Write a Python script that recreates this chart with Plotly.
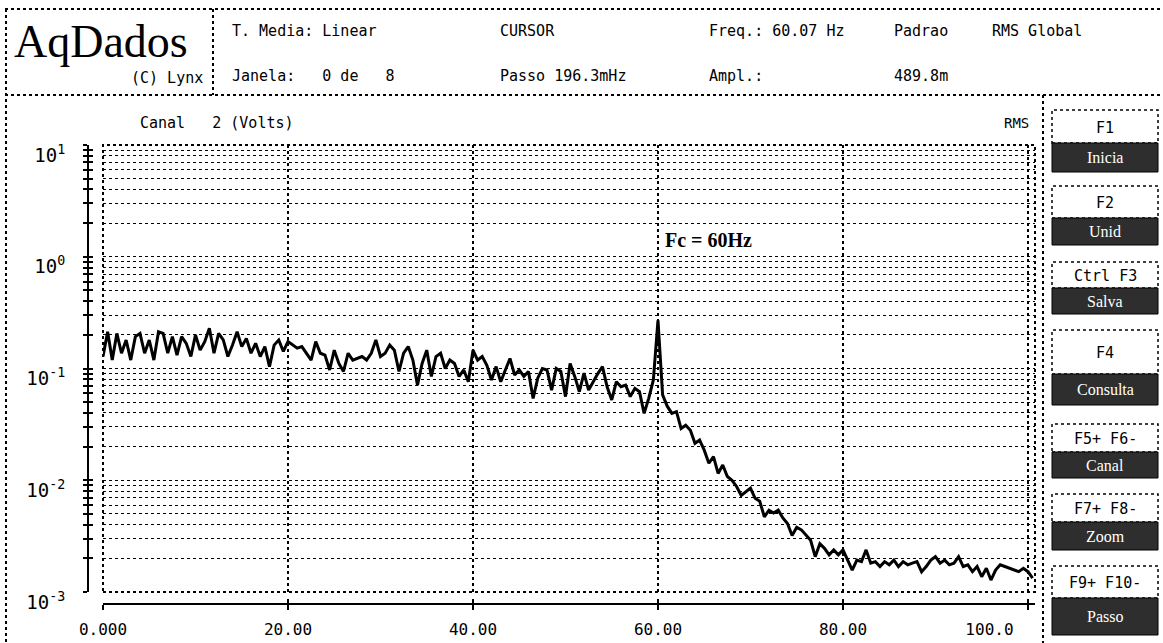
import plotly.graph_objects as go

# Spectrum of channel 2 (RMS volts), one value every 0.5 Hz from 0 to 100.5 Hz
freq_step_hz = 0.5
amp_0_27 = [0.128, 0.213, 0.119, 0.206, 0.137, 0.180, 0.119, 0.193, 0.206, 0.137,
            0.180, 0.119, 0.213, 0.206, 0.137, 0.193, 0.132, 0.193, 0.168, 0.128,
            0.200, 0.146, 0.174, 0.229, 0.137, 0.206, 0.180, 0.128, 0.162, 0.213,
            0.157, 0.186, 0.137, 0.168, 0.128, 0.157, 0.104, 0.162, 0.180, 0.142,
            0.174, 0.162, 0.152, 0.157, 0.137, 0.119, 0.174, 0.137, 0.132, 0.097,
            0.146, 0.111, 0.094, 0.137, 0.119]
amp_27_52 = [0.123, 0.128, 0.119, 0.137, 0.180, 0.128, 0.137, 0.162, 0.146, 0.094,
             0.137, 0.157, 0.119, 0.071, 0.111, 0.146, 0.085, 0.128, 0.137, 0.100,
             0.119, 0.111, 0.085, 0.097, 0.076, 0.146, 0.119, 0.128, 0.107, 0.079,
             0.104, 0.076, 0.097, 0.123, 0.0875, 0.097, 0.085, 0.094, 0.054, 0.082,
             0.100, 0.097, 0.064, 0.100, 0.094, 0.056, 0.111, 0.085, 0.062, 0.091]
amp_52_76 = [0.0642, 0.0762, 0.090, 0.104, 0.0687, 0.0523, 0.0762, 0.0687, 0.0711, 0.056,
             0.0664, 0.062, 0.0397, 0.0541, 0.079, 0.27, 0.058, 0.046, 0.0397, 0.0411,
             0.029, 0.031, 0.028, 0.0214, 0.0229, 0.0186, 0.0142, 0.0163, 0.0115, 0.0137,
             0.0108, 0.0100, 0.0088, 0.0073, 0.0079, 0.0085, 0.0069, 0.0065, 0.0047, 0.0054,
             0.0051, 0.0054, 0.0046, 0.0041, 0.0032, 0.0038, 0.0036, 0.0032, 0.0029]
amp_77_100 = [0.00207, 0.0027, 0.00246, 0.00215, 0.00238, 0.00215, 0.00238, 0.00193, 0.00157, 0.00193,
              0.00187, 0.00238, 0.00181, 0.00187, 0.00169, 0.00187, 0.00175, 0.00193, 0.00169, 0.00187,
              0.00175, 0.00181, 0.00187, 0.00152, 0.00169, 0.00193, 0.00207, 0.00181, 0.00193, 0.00175,
              0.00181, 0.00207, 0.00169, 0.00175, 0.00152, 0.00169, 0.00137, 0.00163, 0.00128, 0.00157,
              0.00175, 0.00169, 0.00163, 0.00157, 0.00152, 0.00163, 0.00152, 0.00133]
amplitude_v = amp_0_27 + amp_27_52 + amp_52_76 + amp_77_100
freq_hz = [i * freq_step_hz for i in range(len(amplitude_v))]

x_ticks = [0, 20, 40, 60, 80, 100]
# the last label is pulled left so it stays inside the plot panel
x_tick_text = ["0.000", "20.00", "40.00", "60.00", "80.00", "100.0" + "&nbsp;" * 8]

decades = [-3, -2, -1, 0]
y_ticks = [m * 10.0 ** d for d in decades for m in range(1, 10)] + [10.0]
y_tick_text = [("10<sup>%d</sup>" % d if m == 1 else "") for d in decades for m in range(1, 10)] + ["10<sup>1</sup>"]

header_row1 = [("T. Media: Linear", 230), ("CURSOR", 498), ("Freq.: 60.07 Hz", 707),
               ("Padrao", 892), ("RMS Global", 990)]
header_row2 = [("Janela:   0 de   8", 230), ("Passo 196.3mHz", 498), ("Ampl.:", 707),
               ("489.8m", 892)]
buttons = [("F1", "Inicia", 110, 143, 172), ("F2", "Unid", 186, 218, 245),
           ("Ctrl F3", "Salva", 262, 288, 314), ("F4", "Consulta", 330, 374, 405),
           ("F5+ F6-", "Canal", 424, 452, 478), ("F7+ F8-", "Zoom", 494, 522, 550),
           ("F9+ F10-", "Passo", 566, 598, 635)]

MONO = "DejaVu Sans Mono"
SERIF = "Liberation Serif"
W, H = 1163, 643
ML, MR, MT, MB = 88, 128, 145, 39


def px(X):
    return (X - ML) / (W - ML - MR)


def py(Y):
    return (H - MB - Y) / (H - MT - MB)


fig = go.Figure()
fig.add_trace(go.Scatter(x=freq_hz, y=amplitude_v, mode="lines",
                         line=dict(color="black", width=3), hoverinfo="skip",
                         showlegend=False))
# companion trace carrying the cross-tick overlay axes
fig.add_trace(go.Scatter(x=freq_hz, y=amplitude_v, mode="lines", xaxis="x2", yaxis="y2",
                         line=dict(color="rgba(0,0,0,0)", width=0), hoverinfo="skip",
                         showlegend=False))

x_dom = [px(103), 1]
y_dom = [py(592), 1]
x_rng = [0, 100.76]

common_x = dict(domain=x_dom, range=x_rng, tickvals=x_ticks, anchor="free", position=0,
                zeroline=False, fixedrange=True, automargin=False)
common_y = dict(domain=y_dom, type="log", range=[-3, 1], tickvals=y_ticks, anchor="free",
                position=0, zeroline=False, fixedrange=True, automargin=False)

fig.update_layout(
    width=W, height=H, margin=dict(l=ML, r=MR, t=MT, b=MB, autoexpand=False),
    paper_bgcolor="white", plot_bgcolor="white", showlegend=False,
    xaxis=dict(**common_x, ticktext=x_tick_text, showgrid=True, gridcolor="black",
               griddash="3px,3px", gridwidth=1.5, showline=True, linecolor="black",
               linewidth=2, ticks="outside", ticklen=5, tickwidth=2, tickcolor="black",
               ticklabelstandoff=6,
               tickfont=dict(family=MONO, size=16, color="black")),
    yaxis=dict(**common_y, ticktext=y_tick_text, showgrid=True, gridcolor="black",
               griddash="3px,3px", gridwidth=1.2, showline=True, linecolor="black",
               linewidth=2, ticks="outside", ticklen=4, tickwidth=2, tickcolor="black",
               ticklabelstandoff=14, ticklabelshift=10,
               tickfont=dict(family=MONO, size=19, color="black")),
    xaxis2=dict(**common_x, overlaying="x", showgrid=False, showline=False,
                ticks="inside", ticklen=5, tickwidth=2, tickcolor="black",
                showticklabels=False),
    yaxis2=dict(**common_y, overlaying="y", showgrid=False, showline=False,
                ticks="inside", ticklen=4, tickwidth=2, tickcolor="black",
                showticklabels=False),
)

shapes = []
# plot frame
shapes.append(dict(type="rect", xref="x domain", yref="y domain", x0=0, x1=1, y0=0, y1=1,
                   line=dict(color="black", width=2, dash="dot")))


def hline(y, x0, x1, w=2):
    shapes.append(dict(type="line", xref="paper", yref="paper", x0=px(x0), x1=px(x1),
                       y0=py(y), y1=py(y), line=dict(color="black", width=w, dash="dot")))


def vline(x, y0, y1, w=2):
    shapes.append(dict(type="line", xref="paper", yref="paper", x0=px(x), x1=px(x),
                       y0=py(y0), y1=py(y1), line=dict(color="black", width=w, dash="dot")))


hline(9, 5, 1163)
hline(95, 5, 1163)
vline(6, 9, 643)
vline(213, 9, 95)
vline(1043, 95, 643)

annotations = []


def text(s, x, y, size=14, family=MONO, color="black", xanchor="left", bold=False):
    annotations.append(dict(text=("<b>%s</b>" % s) if bold else s, xref="paper", yref="paper",
                            x=px(x), y=py(y), xanchor=xanchor, yanchor="middle",
                            showarrow=False, font=dict(family=family, size=size, color=color)))


for s, x in header_row1:
    text(s.replace(" ", "&nbsp;"), x, 31, size=15)
for s, x in header_row2:
    text(s.replace(" ", "&nbsp;"), x, 76, size=15)

text("AqDados", 12, 41, size=46, family=SERIF)
text("(C)&nbsp;Lynx", 205, 78, size=15, xanchor="right")
text("Canal&nbsp;&nbsp;&nbsp;2&nbsp;(Volts)", 138, 123, size=15)
text("RMS", 1002, 123, size=14)
text("Fc = 60Hz", 663, 240, size=20, family=SERIF, bold=True)

for key, label, top, mid, bot in buttons:
    shapes.append(dict(type="rect", xref="paper", yref="paper", x0=px(1052), x1=px(1158),
                       y0=py(mid), y1=py(top), fillcolor="white",
                       line=dict(color="black", width=1.5, dash="dot")))
    shapes.append(dict(type="rect", xref="paper", yref="paper", x0=px(1052), x1=px(1158),
                       y0=py(bot), y1=py(mid), fillcolor="#2e2e2e",
                       line=dict(color="black", width=1)))
    text(key.replace(" ", "&nbsp;"), 1105, (top + mid) / 2 + 1, size=15, xanchor="center")
    text(label, 1105, (mid + bot) / 2, size=16, family=SERIF, color="white", xanchor="center")

fig.update_layout(shapes=shapes, annotations=annotations)
fig.write_html("out.html")
